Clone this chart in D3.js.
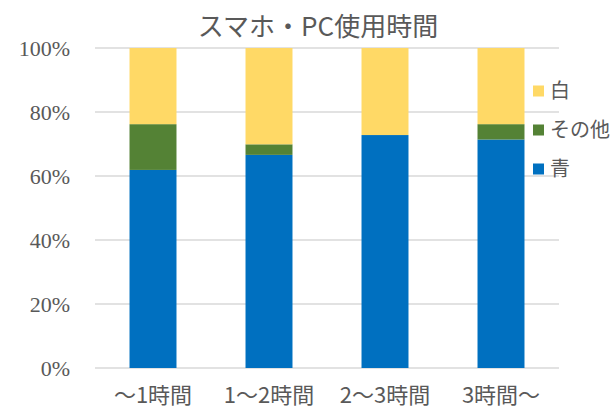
<!DOCTYPE html>
<html>
<head>
<meta charset="utf-8">
<script src="https://cdn.jsdelivr.net/npm/d3@7"></script>
<style>
  body { margin: 0; background: #fff; }
  svg { display: block; }
</style>
</head>
<body>
<div id="chart"></div>
<script>
// data (percent of each bar)
var categories = ["～1時間", "1～2時間", "2～3時間", "3時間～"];
var seriesNames = ["青", "その他", "白"];
var blue  = [61.9, 66.6, 72.8, 71.4];
var other = [14.3, 3.3, 0, 4.8];
var white = [23.8, 30.1, 27.2, 23.8];
var yTicks = [0, 20, 40, 60, 80, 100];

var colors = { "青": "#0070c0", "その他": "#548235", "白": "#ffd966" };

var W = 614, H = 408;
var margin = { top: 48, right: 55, bottom: 40, left: 95 };
var w = W - margin.left - margin.right,
    h = H - margin.top - margin.bottom;

var rows = categories.map(function(c, i) {
  return { cat: c, "青": blue[i], "その他": other[i], "白": white[i] };
});

var svg = d3.select("#chart").append("svg")
    .attr("width", W)
    .attr("height", H);

var g = svg.append("g")
    .attr("transform", "translate(" + margin.left + "," + margin.top + ")");

var x = d3.scaleBand()
    .domain(categories)
    .range([0, w])
    .paddingInner(0.595)
    .paddingOuter(0.2975);

var y = d3.scaleLinear()
    .domain([0, 100])
    .range([h, 0]);

// gridlines
g.selectAll(".grid")
    .data(yTicks)
    .enter().append("line")
    .attr("x1", 0)
    .attr("x2", w)
    .attr("y1", function(d) { return y(d); })
    .attr("y2", function(d) { return y(d); })
    .attr("stroke", "#d9d9d9")
    .attr("stroke-width", 1.5);

// y labels
var yAxis = g.append("g")
    .call(d3.axisLeft(y).tickValues(yTicks).tickSize(0).tickPadding(25)
      .tickFormat(function(d) { return d + "%"; }));
yAxis.attr("font-family", "Liberation Serif, DejaVu Serif, serif").attr("font-size", 22);
yAxis.select(".domain").remove();
yAxis.selectAll("text")
    .attr("fill", "#595959")
    .attr("dy", "0.35em");

// stacked bars
var stack = d3.stack().keys(seriesNames)(rows);

g.selectAll(".layer")
    .data(stack)
    .enter().append("g")
    .attr("fill", function(d) { return colors[d.key]; })
    .selectAll("rect")
    .data(function(d) { return d; })
    .enter().append("rect")
    .attr("x", function(d) { return x(d.data.cat); })
    .attr("width", x.bandwidth())
    .attr("y", function(d) { return y(d[1]); })
    .attr("height", function(d) { return y(d[0]) - y(d[1]); });

// x labels (the reference crops them at the bottom edge; kept just inside here)
var xAxis = g.append("g")
    .attr("transform", "translate(0," + h + ")")
    .call(d3.axisBottom(x).tickSize(0).tickPadding(19));
xAxis.attr("font-family", "Noto Sans CJK JP, sans-serif").attr("font-size", 22);
xAxis.select(".domain").remove();
xAxis.selectAll("text")
    .attr("fill", "#595959");

// title
svg.append("text")
    .attr("x", 318)
    .attr("y", 36)
    .attr("text-anchor", "middle")
    .attr("fill", "#595959")
    .attr("font-family", "Noto Sans CJK JP, sans-serif")
    .attr("font-size", 26)
    .text("スマホ・PC使用時間");

// legend (top to bottom: 白, その他, 青)
var legendItems = seriesNames.slice().reverse();
var leg = svg.append("g")
    .attr("transform", "translate(533,91)");
legendItems.forEach(function(k, i) {
  leg.append("rect")
      .attr("x", 0)
      .attr("y", i * 39 - 5.5)
      .attr("width", 11)
      .attr("height", 11)
      .attr("fill", colors[k]);
  leg.append("text")
      .attr("x", 17)
      .attr("y", i * 39)
      .attr("dy", "0.35em")
      .attr("fill", "#595959")
      .attr("font-family", "Noto Sans CJK JP, serif")
      .attr("font-size", 20)
      .text(k);
});
</script>
</body>
</html>
